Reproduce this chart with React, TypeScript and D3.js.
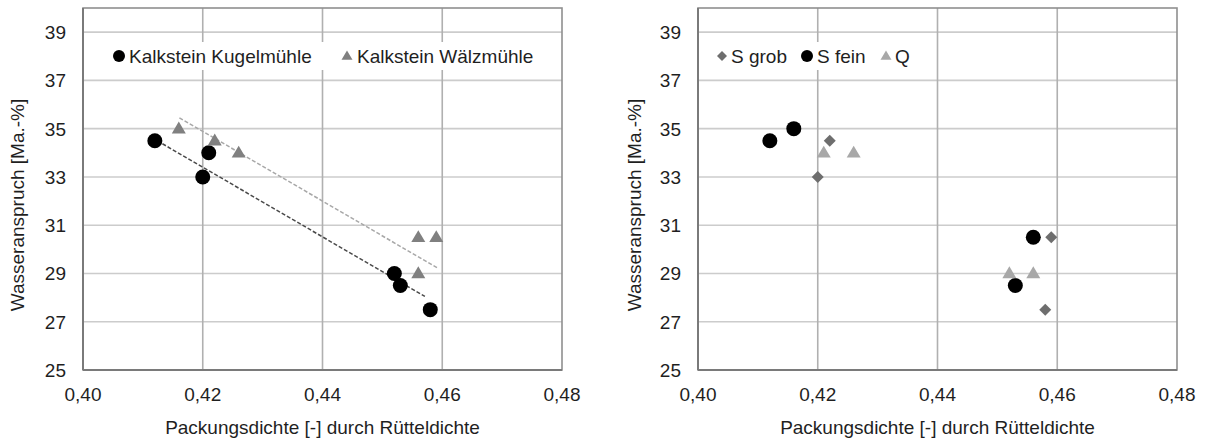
import React from "react";
import * as d3 from "d3";

// Packing density (x) vs. water demand (y)
const xTicks = [0.4, 0.42, 0.44, 0.46, 0.48];
const yTicks = [25, 27, 29, 31, 33, 35, 37, 39];

// Left panel: limestone, two mills
const kugelX = [0.412, 0.421, 0.42, 0.452, 0.453, 0.458];
const kugelY = [34.5, 34.0, 33.0, 29.0, 28.5, 27.5];
const waelzX = [0.416, 0.422, 0.426, 0.456, 0.459, 0.456];
const waelzY = [35.0, 34.5, 34.0, 30.5, 30.5, 29.0];
// Linear trend lines (start / end points)
const kugelTrendX = [0.4124, 0.4571];
const kugelTrendY = [34.5, 28.05];
const waelzTrendX = [0.4161, 0.4594];
const waelzTrendY = [35.45, 29.2];

// Right panel: sand coarse / fine, quartz
const sGrobX = [0.422, 0.42, 0.459, 0.458];
const sGrobY = [34.5, 33.0, 30.5, 27.5];
const sFeinX = [0.412, 0.416, 0.456, 0.453];
const sFeinY = [34.5, 35.0, 30.5, 28.5];
const qX = [0.421, 0.426, 0.452, 0.456];
const qY = [34.0, 34.0, 29.0, 29.0];

const FONT = "'Liberation Sans', Arial, sans-serif";
const TEXT = "#1f1f1f";

type Shape = "circle" | "triangle" | "diamond";

function Marker({ shape, x, y, size, fill }: { shape: Shape; x: number; y: number; size: number; fill: string }) {
  if (shape === "circle") return <circle cx={x} cy={y} r={size / 2} fill={fill} />;
  if (shape === "triangle") {
    const w = size;
    const h = size * 0.85;
    const pts = `${x},${y - h * 0.6} ${x + w / 2},${y + h * 0.4} ${x - w / 2},${y + h * 0.4}`;
    return <polygon points={pts} fill={fill} />;
  }
  const r = size / 2;
  return <polygon points={`${x},${y - r} ${x + r},${y} ${x},${y + r} ${x - r},${y}`} fill={fill} />;
}

interface Series {
  label: string;
  xs: number[];
  ys: number[];
  shape: Shape;
  size: number;
  legendSize: number;
  fill: string;
  legendX: number; // legend marker position (px from panel left)
  textX: number;
}

interface Trend {
  xs: number[];
  ys: number[];
  stroke: string;
}

function Panel({
  left,
  ylabelX,
  series,
  trends,
  legendBox,
}: {
  left: number;
  ylabelX: number;
  series: Series[];
  trends: Trend[];
  legendBox: [number, number];
}) {
  const width = 479;
  const top = 8;
  const bottom = 370;
  const x = d3.scaleLinear().domain([0.4, 0.48]).range([left, left + width]);
  const y = d3.scaleLinear().domain([25, 40]).range([bottom, top]);
  const fmt = (v: number) => d3.format(".2f")(v).replace(".", ",");
  const line = d3
    .line<[number, number]>()
    .x((d) => x(d[0]))
    .y((d) => y(d[1]));
  const legendY = 56;

  return (
    <g>
      {/* horizontal grid */}
      {yTicks.slice(1).map((t) => (
        <line key={"h" + t} x1={left} x2={left + width} y1={y(t)} y2={y(t)} stroke="#cccccc" strokeWidth={1.6} />
      ))}
      {/* vertical grid */}
      {xTicks.slice(1, -1).map((t) => (
        <line key={"v" + t} x1={x(t)} x2={x(t)} y1={top} y2={bottom} stroke="#b0b0b0" strokeWidth={1.6} />
      ))}
      {/* frame */}
      <rect x={left} y={top} width={width} height={bottom - top} fill="none" stroke="#8f8f8f" strokeWidth={1.6} />
      <line x1={left} x2={left} y1={top} y2={bottom} stroke="#7a7a7a" strokeWidth={2} />
      <line x1={left} x2={left + width} y1={bottom} y2={bottom} stroke="#7a7a7a" strokeWidth={2} />

      {/* legend background */}
      <rect x={left + legendBox[0]} y={42} width={legendBox[1]} height={28} fill="#ffffff" />

      {/* trend lines */}
      {trends.map((tr, i) => (
        <path
          key={"t" + i}
          d={line(tr.xs.map((v, j) => [v, tr.ys[j]]) as [number, number][]) || ""}
          fill="none"
          stroke={tr.stroke}
          strokeWidth={1.5}
          strokeDasharray="4,2"
        />
      ))}

      {/* points */}
      {series.map((s, si) =>
        s.xs.map((v, i) => (
          <Marker key={si + "-" + i} shape={s.shape} x={x(v)} y={y(s.ys[i])} size={s.size} fill={s.fill} />
        ))
      )}

      {/* legend */}
      {series.map((s, si) => (
        <g key={"l" + si}>
          <Marker shape={s.shape} x={left + s.legendX} y={legendY} size={s.legendSize} fill={s.fill} />
          <text x={left + s.textX} y={legendY + 7} fontFamily={FONT} fontSize={19} fill={TEXT}>
            {s.label}
          </text>
        </g>
      ))}

      {/* y tick labels */}
      {yTicks.map((t) => (
        <text key={"yl" + t} x={left - 17} y={y(t) + 7} textAnchor="end" fontFamily={FONT} fontSize={19} fill={TEXT}>
          {t}
        </text>
      ))}
      {/* x tick labels */}
      {xTicks.map((t) => (
        <text key={"xl" + t} x={x(t)} y={401} textAnchor="middle" fontFamily={FONT} fontSize={19} fill={TEXT}>
          {fmt(t)}
        </text>
      ))}
      <text x={left + width / 2} y={434} textAnchor="middle" fontFamily={FONT} fontSize={19} fill={TEXT}>
        Packungsdichte [-] durch Rütteldichte
      </text>
      <text
        transform={`translate(${ylabelX},205) rotate(-90)`}
        textAnchor="middle"
        fontFamily={FONT}
        fontSize={19}
        fill={TEXT}
      >
        Wasseranspruch [Ma.-%]
      </text>
    </g>
  );
}

export default function App() {
  const leftSeries: Series[] = [
    { label: "Kalkstein Kugelmühle", xs: kugelX, ys: kugelY, shape: "circle", size: 15, legendSize: 12, fill: "#000000", legendX: 36, textX: 46 },
    { label: "Kalkstein Wälzmühle", xs: waelzX, ys: waelzY, shape: "triangle", size: 14, legendSize: 11, fill: "#808080", legendX: 264, textX: 274 },
  ];
  const leftTrends: Trend[] = [
    { xs: kugelTrendX, ys: kugelTrendY, stroke: "#4a4a4a" },
    { xs: waelzTrendX, ys: waelzTrendY, stroke: "#a8a8a8" },
  ];
  const rightSeries: Series[] = [
    { label: "S grob", xs: sGrobX, ys: sGrobY, shape: "diamond", size: 12, legendSize: 10, fill: "#6e6e6e", legendX: 24, textX: 33 },
    { label: "S fein", xs: sFeinX, ys: sFeinY, shape: "circle", size: 15, legendSize: 12, fill: "#000000", legendX: 109, textX: 119 },
    { label: "Q", xs: qX, ys: qY, shape: "triangle", size: 14, legendSize: 11, fill: "#a8a8a8", legendX: 188, textX: 197 },
  ];

  return (
    <svg
      width={1206}
      height={444}
      viewBox="0 0 1206 444"
      style={{ position: "absolute", left: 0, top: 0, background: "#ffffff" }}
    >
      <rect width={1206} height={444} fill="#ffffff" />
      <Panel left={83} ylabelX={24} series={leftSeries} trends={leftTrends} legendBox={[24, 440]} />
      <Panel left={698} ylabelX={641} series={rightSeries} trends={[]} legendBox={[16, 200]} />
    </svg>
  );
}
